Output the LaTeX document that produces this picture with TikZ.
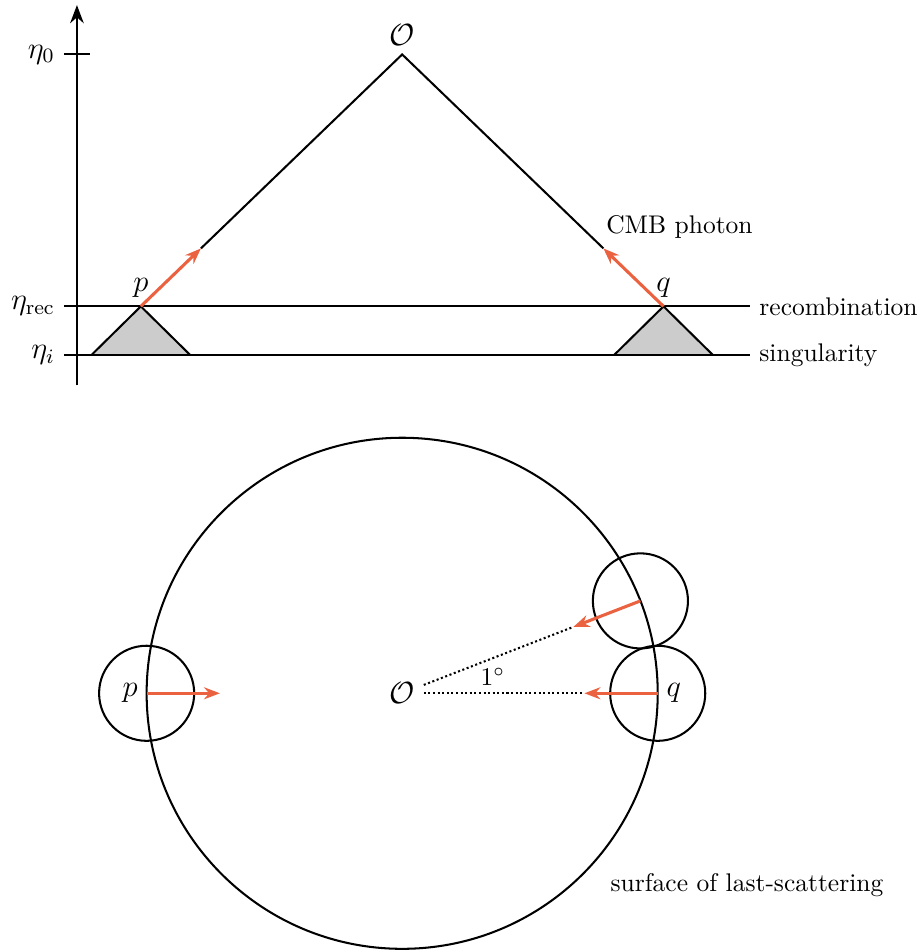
\documentclass[tikz,border=0pt]{standalone}
\usepackage{amsmath}
\usetikzlibrary{arrows.meta,calc}
\definecolor{photc}{HTML}{EA6240}
\tikzset{
  axisline/.style={thick,-{Stealth[length=2.5mm]}},
  level/.style   ={thick},
  cone/.style    ={thick,fill=black!20},
  ray/.style     ={thick},
  photon/.style  ={-{Stealth[length=2.2mm]},very thick,photc},
  sight/.style   ={thick,densely dotted},
  patch/.style   ={thick},
  sym/.style     ={font=\large},
}
\begin{document}
\begin{tikzpicture}
    \useasboundingbox (-5.54,-3.55) rectangle (7.13,9.55);

    % conformal time axis
    \coordinate (ax0) at (-4.48,4.24);
    \coordinate (ax1) at (-4.48,9.48);
    \draw[axisline] (ax0) -- (ax1);
    \node[sym,left] (e0)   at (-4.66,8.80) {$\eta_0$};
    \node[sym,left] (erec) at (-4.66,5.33) {$\eta_{\mathrm{rec}}$};
    \node[sym,left] (ei)   at (-4.66,4.66) {$\eta_i$};
    \draw[thick] (e0.east) -- ++(0.36,0);

    % recombination and singularity
    \coordinate (apex) at (0,8.80);
    \coordinate (p) at (-3.6,5.33);
    \coordinate (q) at ( 3.6,5.33);
    \fill[black!20] ($(p)+(-0.68,-0.67)$) -- (p) -- ($(p)+(0.68,-0.67)$) -- cycle;
    \fill[black!20] ($(q)+(-0.68,-0.67)$) -- (q) -- ($(q)+(0.68,-0.67)$) -- cycle;
    \draw[level] (erec.east) -- (4.79,5.33) node[right] (lrec) {recombination};
    \draw[level] (ei.east)   -- (4.79,4.66) node[right] (lsin) {singularity};
    \draw[thick] ($(p)+(-0.68,-0.67)$) -- (p) -- ($(p)+(0.68,-0.67)$);
    \draw[thick] ($(q)+(-0.68,-0.67)$) -- (q) -- ($(q)+(0.68,-0.67)$);

    % light rays to the observer
    \node[sym,above] (obs) at (apex) {$\mathcal{O}$};
    \node[sym,above] (lp) at (p) {$p$};
    \node[sym,above] (lq) at (q) {$q$};
    \coordinate (pa) at ($(p)!0.23!(apex)$);
    \coordinate (qa) at ($(q)!0.23!(apex)$);
    \draw[ray] (pa) -- (apex) -- (qa);
    \draw[photon] (p) -- (pa);
    \draw[photon] (q) -- (qa);
    \node (cmb) at (3.82,6.43) {CMB photon};

    % sky seen by the observer
    \node[sym] (O) at (0,0) {$\mathcal{O}$};
    \draw[patch] (0,0) circle (3.52);
    \coordinate (sp)  at (180:3.52);
    \coordinate (sq)  at (0:3.52);
    \coordinate (sq2) at (21.2:3.52);
    \foreach \c in {sp,sq,sq2} \draw[patch] (\c) circle (0.655);
    \coordinate (tp)  at (180:2.51);
    \coordinate (tq)  at (0:2.51);
    \coordinate (tq2) at (21.2:2.53);
    \draw[sight] (O) -- (tq);
    \draw[sight] (O) -- (tq2);
    \draw[photon] (sp)  -- (tp);
    \draw[photon] (sq)  -- (tq);
    \draw[photon] (sq2) -- (tq2);
    \node[sym,left]  (bp) at (sp) {$p$};
    \node[sym,right] (bq) at (sq) {$q$};
    \node (ang) at (1.25,0.23) {$1^\circ$};
    \node (lss) at (4.75,-2.64) {surface of last-scattering};
\end{tikzpicture}
\end{document}
